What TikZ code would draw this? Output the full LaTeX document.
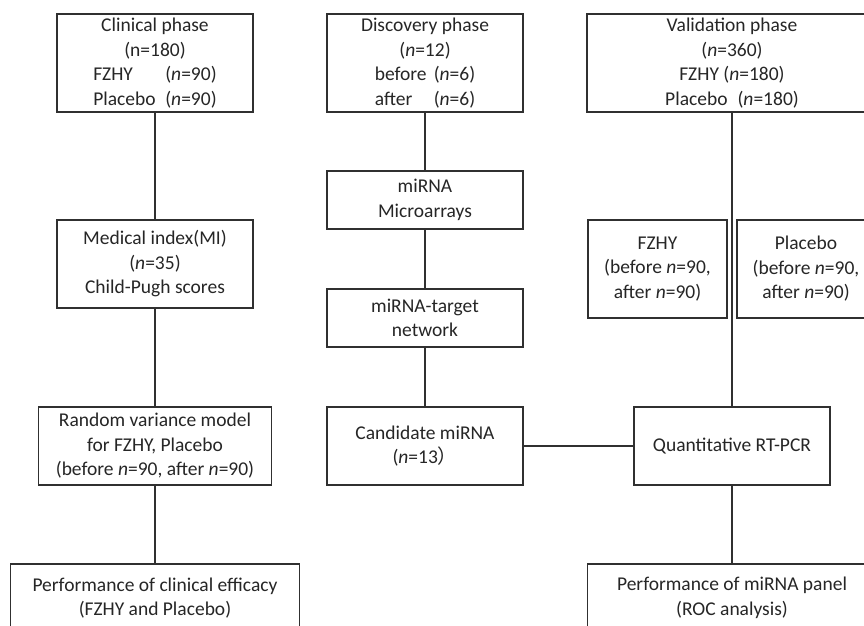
\documentclass[tikz,border=0pt]{standalone}
\usepackage{fontspec}
\setmainfont{Carlito}
\newfontfamily\cjk{Noto Sans CJK SC}
\definecolor{linec}{HTML}{303030}
\definecolor{textc}{HTML}{262626}
\begin{document}
\begin{tikzpicture}[x=1pt,y=-1pt,
  bx/.style={draw=linec, line width=1.3pt, inner sep=0pt, align=center, text=textc,
             font=\fontsize{19.5}{24.5}\selectfont},
  ln/.style={draw=linec, line width=1.3pt}]
\path[use as bounding box, fill=white] (0,0) rectangle (864,625);
\clip (0,0) rectangle (864,625);
% column 1
\node[bx, minimum width=196pt, minimum height=98pt] (clin) at (155,63)
  {Clinical phase\\(n=180)\\\makebox[72pt][l]{FZHY}(\textit{n}=90)\\\makebox[72pt][l]{Placebo}(\textit{n}=90)};
\node[bx, minimum width=196pt, minimum height=88pt] (mi) at (155,264)
  {Medical index(MI)\\(\textit{n}=35)\\Child-Pugh scores};
\node[bx, minimum width=233pt, minimum height=78pt] (rv) at (155,446)
  {Random variance model\\for FZHY, Placebo\\(before \textit{n}=90, after \textit{n}=90)};
\node[bx, minimum width=289pt, minimum height=68pt] (perfa) at (155,598)
  {Performance of clinical efficacy\\(FZHY and Placebo)};
% column 2
\node[bx, minimum width=196pt, minimum height=98pt] (disc) at (425,63)
  {Discovery phase\\(\textit{n}=12)\\\makebox[59pt][l]{before}(\textit{n}=6)\\\makebox[59pt][l]{after}(\textit{n}=6)};
\node[bx, minimum width=196pt, minimum height=58pt] (micro) at (425,200)
  {miRNA\\Microarrays};
\node[bx, minimum width=196pt, minimum height=58pt] (net) at (425,318)
  {miRNA-target\\network};
\node[bx, minimum width=196pt, minimum height=78pt] (cand) at (425,446)
  {Candidate miRNA\\(\textit{n}=13{\cjk ）}};
% column 3
\node[bx, minimum width=290pt, minimum height=98pt] (valid) at (732,63)
  {Validation phase\\(\textit{n}=360)\\FZHY (\textit{n}=180)\\Placebo\hspace{10pt}(\textit{n}=180)};
\node[bx, minimum width=139pt, minimum height=98pt] (fz) at (657.5,269)
  {FZHY\\(before \textit{n}=90,\\after \textit{n}=90)};
\node[bx, minimum width=138pt, minimum height=98pt] (pl) at (806,269)
  {Placebo\\(before \textit{n}=90,\\after \textit{n}=90)};
\node[bx, minimum width=196pt, minimum height=78pt] (qrt) at (732,446)
  {Quantitative RT-PCR};
\node[bx, minimum width=289pt, minimum height=68pt] (perfb) at (732,598)
  {Performance of miRNA panel\\(ROC analysis)};
% connectors
\draw[ln] (clin.south) -- (mi.north);
\draw[ln] (mi.south) -- (rv.north);
\draw[ln] (rv.south) -- (perfa.north);
\draw[ln] (disc.south) -- (micro.north);
\draw[ln] (micro.south) -- (net.north);
\draw[ln] (net.south) -- (cand.north);
\draw[ln] (cand.east) -- (qrt.west);
\draw[ln] (valid.south) -- (qrt.north);
\draw[ln] (qrt.south) -- (perfb.north);
\end{tikzpicture}
\end{document}
